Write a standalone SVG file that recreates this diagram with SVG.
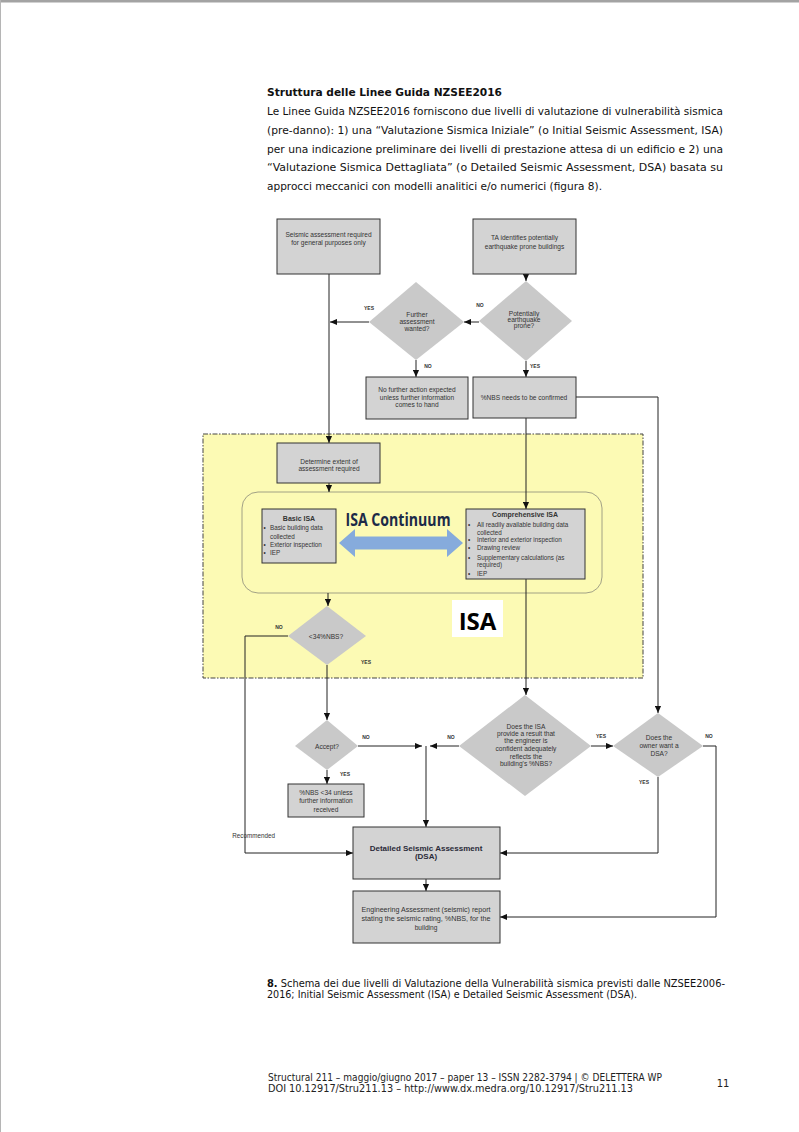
<svg xmlns="http://www.w3.org/2000/svg" width="799" height="1132" viewBox="0 0 799 1132">
<defs>
<marker id="ah" viewBox="0 0 8 8" refX="8" refY="4" markerWidth="7" markerHeight="7" markerUnits="userSpaceOnUse" orient="auto"><path d="M0,0.5 L8,4 L0,7.5 z" fill="#111"/></marker>
<style>
.p{font-family:"DejaVu Sans",Verdana,sans-serif;font-size:10px;fill:#111}
.pb{font-family:"DejaVu Sans",Verdana,sans-serif;font-size:10px;font-weight:bold;fill:#111}
.box{fill:#d3d3d3;stroke:#333;stroke-width:1}
.dia{fill:#c9c9c9;stroke:none}
.t{font-family:"Liberation Sans",Arial,sans-serif;font-size:6.6px;fill:#333;text-anchor:middle}
.tl{font-family:"Liberation Sans",Arial,sans-serif;font-size:6.3px;fill:#333}
.tb{font-family:"Liberation Sans",Arial,sans-serif;font-size:7px;font-weight:bold;fill:#333;text-anchor:middle}
.lab{font-family:"Liberation Sans",Arial,sans-serif;font-size:5px;font-weight:bold;fill:#333;text-anchor:middle}
.ln{fill:none;stroke:#222;stroke-width:1}
.lna{fill:none;stroke:#222;stroke-width:1;marker-end:url(#ah)}
</style>
</defs>
<rect x="0" y="0" width="799" height="1132" fill="#fff"/>
<rect x="0" y="0" width="799" height="2.5" fill="#a3a3a3"/>
<line x1="0.5" y1="0" x2="0.5" y2="1132" stroke="#b5b5b5" stroke-width="1"/>

<g id="header">
<text class="pb" x="267" y="95.5" textLength="235" lengthAdjust="spacingAndGlyphs">Struttura delle Linee Guida NZSEE2016</text>
<text class="p" x="267" y="115" textLength="456" lengthAdjust="spacingAndGlyphs">Le Linee Guida NZSEE2016 forniscono due livelli di valutazione di vulnerabilità sismica</text>
<text class="p" x="267" y="134" textLength="456" lengthAdjust="spacingAndGlyphs">(pre-danno): 1) una “Valutazione Sismica Iniziale” (o Initial Seismic Assessment, ISA)</text>
<text class="p" x="267" y="152.5" textLength="456" lengthAdjust="spacingAndGlyphs">per una indicazione preliminare dei livelli di prestazione attesa di un edificio e 2) una</text>
<text class="p" x="267" y="171" textLength="456" lengthAdjust="spacingAndGlyphs">“Valutazione Sismica Dettagliata” (o Detailed Seismic Assessment, DSA) basata su</text>
<text class="p" x="267" y="190" textLength="335" lengthAdjust="spacingAndGlyphs">approcci meccanici con modelli analitici e/o numerici (figura 8).</text>
</g>

<g id="isa-region">
<rect x="203" y="434" width="440" height="244" fill="#fcfab4" stroke="#444" stroke-width="1" stroke-dasharray="5 1.5 1.5 1.5"/>
<rect x="242" y="492" width="360" height="101" rx="16" fill="none" stroke="#8a8a7a" stroke-width="0.8"/>
</g>

<g id="connectors">
<line class="lna" x1="526" y1="274" x2="526" y2="281"/>
<line class="lna" x1="479" y1="322" x2="464" y2="322"/>
<line class="lna" x1="369" y1="322" x2="330" y2="322"/>
<line class="lna" x1="329" y1="274" x2="329" y2="443"/>
<line class="lna" x1="416" y1="360" x2="416" y2="377"/>
<line class="lna" x1="526" y1="361" x2="526" y2="377"/>
<polyline class="lna" points="576,397 658,397 658,713"/>
<line class="lna" x1="526" y1="418" x2="526" y2="509"/>
<line class="lna" x1="329" y1="483" x2="329" y2="492"/>
<line class="lna" x1="328" y1="593" x2="328" y2="606"/>
<polyline class="lna" points="288,636 245,636 245,853 353,853"/>
<line class="lna" x1="327" y1="665" x2="327" y2="720"/>
<line class="lna" x1="327" y1="770" x2="327" y2="784"/>
<line class="lna" x1="358" y1="746" x2="422" y2="746"/>
<line class="lna" x1="459" y1="746" x2="430" y2="746"/>
<line class="lna" x1="426" y1="746" x2="426" y2="827"/>
<line class="lna" x1="526" y1="579" x2="526" y2="695"/>
<line class="lna" x1="591" y1="746" x2="613" y2="746"/>
<polyline class="lna" points="658,777 658,853 500,853"/>
<polyline class="lna" points="703,746 716,746 716,917 500,917"/>
<line class="lna" x1="426" y1="879" x2="426" y2="891"/>
</g>

<g id="labels">
<text class="lab" x="369" y="310">YES</text>
<text class="lab" x="480" y="307">NO</text>
<text class="lab" x="428" y="368">NO</text>
<text class="lab" x="535" y="368">YES</text>
<text class="lab" x="279" y="629">NO</text>
<text class="lab" x="366" y="663.5">YES</text>
<text class="lab" x="366" y="739">NO</text>
<text class="lab" x="345" y="775.5">YES</text>
<text class="lab" x="451" y="739">NO</text>
<text class="lab" x="601" y="738">YES</text>
<text class="lab" x="709" y="738">NO</text>
<text class="lab" x="644" y="784">YES</text>
<text class="tl" x="275" y="837.5" text-anchor="end">Recommended</text>
</g>

<g id="n-general">
<rect class="box" x="277" y="219" width="103" height="55"/>
<text class="t" x="328.5" y="237">Seismic assessment required</text>
<text class="t" x="328.5" y="245">for general purposes only</text>
</g>

<g id="n-ta">
<rect class="box" x="473" y="219" width="103" height="55"/>
<text class="t" x="524.5" y="239.5">TA identifies potentially</text>
<text class="t" x="524.5" y="249">earthquake prone buildings</text>
</g>

<g id="n-prone">
<polygon class="dia" points="526,281 572,321 526,361 479,321"/>
<text class="t" x="524" y="315.5">Potentially</text>
<text class="t" x="524" y="321.5">earthquake</text>
<text class="t" x="524" y="328">prone?</text>
</g>

<g id="n-further">
<polygon class="dia" points="416,282 464,322 416,360 369,322"/>
<text class="t" x="417" y="316.5">Further</text>
<text class="t" x="417" y="324">assessment</text>
<text class="t" x="417" y="330.5">wanted?</text>
</g>

<g id="n-noaction">
<rect class="box" x="366" y="377" width="102" height="42"/>
<text class="t" x="417" y="391.5">No further action expected</text>
<text class="t" x="417" y="399.5">unless further information</text>
<text class="t" x="417" y="407">comes to hand</text>
</g>

<g id="n-nbs">
<rect class="box" x="473" y="377" width="103" height="41"/>
<text class="t" x="524" y="399.5">%NBS needs to be confirmed</text>
</g>

<g id="n-determine">
<rect class="box" x="277" y="443" width="103" height="40"/>
<text class="t" x="329" y="463.5">Determine extent of</text>
<text class="t" x="329" y="471">assessment required</text>
</g>

<g id="n-basic">
<rect class="box" x="262" y="509" width="74" height="54"/>
<text class="tb" x="299" y="521">Basic ISA</text>
<text class="tl" x="263.5" y="530">•</text>
<text class="tl" x="270" y="530">Basic building data</text>
<text class="tl" x="270" y="538.5">collected</text>
<text class="tl" x="263.5" y="546.5">•</text>
<text class="tl" x="270" y="546.5">Exterior inspection</text>
<text class="tl" x="263.5" y="554.5">•</text>
<text class="tl" x="270" y="554.5">IEP</text>
</g>

<g id="n-continuum">
<text x="398" y="526" text-anchor="middle" font-family="'Open Sans','Liberation Sans',sans-serif" font-size="17" font-weight="bold" fill="#1c2a48" textLength="105" lengthAdjust="spacingAndGlyphs">ISA Continuum</text>
<polygon points="339,543 355,529 355,536.5 447,536.5 447,529 463,543 447,557 447,549.5 355,549.5 355,557" fill="#86abdc"/>
</g>

<g id="n-comprehensive">
<rect class="box" x="466" y="509" width="119" height="70"/>
<text class="tb" x="525" y="516.5">Comprehensive ISA</text>
<text class="tl" x="468" y="526.5">•</text>
<text class="tl" x="477" y="526.5">All readily available building data</text>
<text class="tl" x="477" y="534.5">collected</text>
<text class="tl" x="468" y="542.3">•</text>
<text class="tl" x="477" y="542.3">Interior and exterior inspection</text>
<text class="tl" x="468" y="549.8">•</text>
<text class="tl" x="477" y="549.8">Drawing review</text>
<text class="tl" x="468" y="559.6">•</text>
<text class="tl" x="477" y="559.6">Supplementary calculations (as</text>
<text class="tl" x="477" y="567.3">required)</text>
<text class="tl" x="468" y="575.6">•</text>
<text class="tl" x="477" y="575.6">IEP</text>
</g>

<g id="n-isa-label">
<rect x="452" y="600" width="51" height="37" fill="#fff"/>
<text x="477.5" y="630" text-anchor="middle" font-family="'Open Sans','Liberation Sans',sans-serif" font-size="24" font-weight="bold" fill="#000">ISA</text>
</g>

<g id="n-lt34">
<polygon class="dia" points="327,606 366,636 327,665 288,636"/>
<text class="t" x="326" y="638.5">&lt;34%NBS?</text>
</g>

<g id="n-accept">
<polygon class="dia" points="327,720 358,746 327,770 295,746"/>
<text class="t" x="327" y="748.5">Accept?</text>
</g>

<g id="n-nbs34">
<rect class="box" x="288" y="784" width="76" height="33"/>
<text class="t" x="326" y="794.5">%NBS &lt;34 unless</text>
<text class="t" x="326" y="803">further information</text>
<text class="t" x="326" y="811.5">received</text>
</g>

<g id="n-confident">
<polygon class="dia" points="525,695 591,746 525,796 459,746"/>
<text class="t" x="526" y="729">Does the ISA</text>
<text class="t" x="526" y="735.5">provide a result that</text>
<text class="t" x="526" y="743.3">the engineer is</text>
<text class="t" x="526" y="751.3">confident adequately</text>
<text class="t" x="526" y="759">reflects the</text>
<text class="t" x="526" y="765.6">building's %NBS?</text>
</g>

<g id="n-owner">
<polygon class="dia" points="658,713 703,746 658,777 613,746"/>
<text class="t" x="659" y="739.5">Does the</text>
<text class="t" x="659" y="747.5">owner want a</text>
<text class="t" x="659" y="755.5">DSA?</text>
</g>

<g id="n-dsa">
<rect class="box" x="353" y="827" width="147" height="52"/>
<text x="426" y="850.5" text-anchor="middle" font-family="'Liberation Sans',Arial,sans-serif" font-size="8" font-weight="bold" fill="#2a2a38">Detailed Seismic Assessment</text>
<text x="426" y="859" text-anchor="middle" font-family="'Liberation Sans',Arial,sans-serif" font-size="8" font-weight="bold" fill="#2a2a38">(DSA)</text>
</g>

<g id="n-report">
<rect class="box" x="353" y="891" width="147" height="52"/>
<text class="t" x="426" y="911.5" textLength="129" lengthAdjust="spacingAndGlyphs">Engineering Assessment (seismic) report</text>
<text class="t" x="426" y="920.5" textLength="129" lengthAdjust="spacingAndGlyphs">stating the seismic rating, %NBS, for the</text>
<text class="t" x="426" y="929.5">building</text>
</g>

<g id="caption">
<text class="p" x="267" y="986.5" textLength="458" lengthAdjust="spacingAndGlyphs"><tspan font-weight="bold">8.</tspan> Schema dei due livelli di Valutazione della Vulnerabilità sismica previsti dalle NZSEE2006-</text>
<text class="p" x="267" y="998" textLength="370" lengthAdjust="spacingAndGlyphs">2016; Initial Seismic Assessment (ISA) e Detailed Seismic Assessment (DSA).</text>
</g>

<g id="footer">
<text class="p" x="268" y="1080.5" textLength="394" lengthAdjust="spacingAndGlyphs" style="fill:#222">Structural 211 – maggio/giugno 2017 – paper 13 – ISSN 2282-3794  |  © DELETTERA WP</text>
<text class="p" x="268" y="1092" textLength="365" lengthAdjust="spacingAndGlyphs" style="fill:#222">DOI 10.12917/Stru211.13 – http://www.dx.medra.org/10.12917/Stru211.13</text>
<text class="p" x="723" y="1087" text-anchor="middle" style="fill:#222">11</text>
</g>
</svg>
